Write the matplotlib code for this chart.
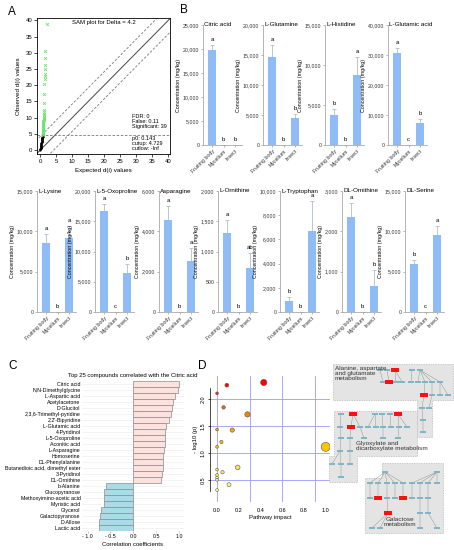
import matplotlib.pyplot as plt
import matplotlib.patches as mpatches
from matplotlib.colors import LinearSegmentedColormap
import numpy as np

plt.rcParams['font.family'] = ['Liberation Sans', 'DejaVu Sans']

W, H = 454, 550

# ---------------- data ----------------
# A: SAM plot
sam_exp_ns = [0.02, 0.05, 0.08, 0.10, 0.12, 0.15, 0.18, 0.20, 0.22, 0.25, 0.28, 0.30, 0.33, 0.35,
              0.38, 0.40, 0.42, 0.45, 0.48, 0.50, 0.52, 0.55, 0.58, 0.60, 0.62, 0.65, 0.68, 0.70,
              0.72, 0.75, 0.78, 0.80, 0.82, 0.85]
sam_obs_ns = [0.05, 0.20, 0.35, 0.50, 0.65, 0.80, 0.95, 1.10, 1.25, 1.40, 1.55, 1.70, 1.85, 2.00,
              2.15, 2.30, 2.45, 2.60, 2.75, 2.90, 3.05, 3.20, 3.35, 3.50, 3.62, 3.75, 3.88, 4.00,
              4.12, 4.25, 4.38, 4.50, 4.60, 4.68]
sam_exp_sig = [0.80, 0.82, 0.85, 0.85, 0.87, 0.90, 0.90, 0.92, 0.95, 0.95, 0.97, 1.00, 1.00, 1.00, 1.02, 1.05,
               1.05, 1.08, 1.10, 1.10, 1.12, 1.15, 1.15, 1.20, 1.25, 1.30, 1.35, 1.35, 1.40, 1.40, 1.45, 1.50, 1.55, 2.00]
sam_obs_sig = [4.8, 5.0, 5.3, 5.6, 5.9, 6.2, 6.5, 6.8, 7.1, 7.4, 7.7, 8.0, 8.3, 8.6, 8.9, 9.2,
               9.5, 9.8, 10.2, 10.7, 11.2, 11.8, 12.4, 14.5, 17.2, 20.5, 22.0, 22.8, 23.5, 25.0, 26.3, 28.4, 30.5, 38.8]
sam_delta = 4.2
sam_cutup = 4.729

# B: amino acid concentrations (mg/kg)
groups = ['Fruiting body', 'Mycelium', 'Insect']
compounds = ['Citric acid', 'L-Glutamine', 'L-Histidine', 'L-Glutamic acid',
             'L-Lysine', 'L-5-Oxoproline', 'Asparagine', 'L-Ornithine',
             'L-Tryptophan', 'DL-Ornithine', 'DL-Serine']
conc_means = [[19800, 0, 0], [14700, 0, 4500], [3800, 0, 8700], [30700, 0, 7300],
              [8500, 0, 9200], [16700, 0, 6500], [4550, 0, 2550], [1300, 0, 730],
              [900, 0, 6700], [2350, 0, 650], [6000, 0, 9500]]
conc_errs = [[1000, 0, 0], [2000, 0, 700], [700, 0, 2300], [1500, 0, 1300],
             [1200, 0, 1400], [1200, 0, 1500], [700, 0, 600], [220, 0, 250],
             [300, 0, 2500], [350, 0, 400], [500, 0, 1200]]
sig_letters = [['a', 'b', 'b'], ['a', 'b', 'b'], ['b', 'b', 'a'], ['a', 'c', 'b'],
               ['a', 'b', 'a'], ['a', 'c', 'b'], ['a', 'b', 'a'], ['a', 'b', 'ab'],
               ['b', 'b', 'a'], ['a', 'b', 'b'], ['b', 'c', 'a']]
y_max = [25000, 20000, 15000, 40000, 15000, 20000, 6000, 2000, 10000, 3000, 15000]
y_step = [5000, 5000, 5000, 10000, 5000, 5000, 2000, 500, 2000, 1000, 5000]

# C: correlation with citric acid
corr_names = ['Citric acid', 'N,N-Dimethylglycine', 'L-Aspartic acid', 'Acetylacetone', 'D-Glucitol',
              '2,3,6-Trimethyl-pyridine', "2,2'-Bipyridine", 'L-Glutamic acid', '4-Pyridinol',
              'L-5-Oxoproline', 'Aconitic acid', 'L-Asparagine', 'Homoserine', 'DL-Phenylalanine',
              'Butanedioic acid, dimethyl ester', '3-Pyridinol', 'DL-Ornithine', 'b-Alanine',
              'Glucopyranose', 'Methoxyimino-acetic acid', 'Myristic acid', 'Glycerol',
              'Galactopyranose', 'D-Allose', 'Lactic acid']
corr_vals = [1.00, 0.96, 0.90, 0.86, 0.84, 0.81, 0.78, 0.70, 0.69, 0.69, 0.68, 0.66, 0.65, 0.65,
             0.64, 0.62, 0.60, -0.60, -0.64, -0.64, -0.65, -0.70, -0.72, -0.74, -0.76]

# D: pathway analysis
path_impact = [0.43, 0.09, 0.0, 0.06, 0.28, 0.0, 0.14, 0.04, 0.0, 1.0,
               0.19, 0.0, 0.05, 0.0, 0.0, 0.0, 0.11, 0.0]
path_logp = [2.31, 2.26, 2.11, 1.85, 1.72, 1.44, 1.43, 1.21, 1.12, 1.12,
             0.74, 0.70, 0.65, 0.60, 0.55, 0.51, 0.42, 0.32]

# D: pathway network sketches (pixel positions, red = hit compound)
net_outlines = [
    [(333, 364), (453, 364), (453, 400), (432, 400), (432, 437), (417, 437), (417, 400), (333, 400)],
    [(334, 411), (417, 411), (417, 456), (357, 456), (357, 482), (329, 482), (329, 456), (334, 456)],
    [(382, 463), (443, 463), (443, 533), (365, 533), (365, 478), (382, 478)],
]
net_nodes = [
    [(380, 370, 0), (387, 370, 0), (395, 370, 1), (412, 370, 0), (420, 370, 0),
     (383, 382, 0), (389, 382, 1), (396, 382, 0), (402, 382, 0), (411, 382, 0), (418, 382, 0),
     (425, 382, 0), (432, 382, 0), (440, 382, 0),
     (424, 395, 1), (432, 395, 0), (440, 395, 0), (448, 395, 0),
     (422, 408, 0), (429, 408, 0), (423, 420, 0), (423, 432, 0)],
    [(341, 414, 0), (353, 414, 1), (375, 414, 0), (382, 414, 0), (390, 414, 0), (398, 414, 1),
     (340, 427, 0), (351, 427, 1), (360, 427, 0), (368, 427, 0), (376, 427, 0), (383, 427, 0),
     (391, 427, 0), (399, 427, 0), (407, 427, 0),
     (341, 438, 0), (350, 438, 0), (364, 438, 0), (383, 438, 0), (398, 438, 0),
     (340, 451, 0), (350, 451, 0), (332, 464, 0), (341, 464, 0), (350, 464, 0), (341, 477, 0)],
    [(385, 472, 0), (437, 472, 0),
     (370, 483, 0), (378, 483, 0), (387, 483, 0), (395, 483, 0), (403, 483, 0), (412, 483, 0),
     (420, 483, 0), (428, 483, 0), (437, 483, 0),
     (370, 498, 0), (378, 498, 1), (387, 498, 0), (395, 498, 0), (403, 498, 1), (412, 498, 0),
     (420, 498, 0), (428, 498, 0),
     (388, 513, 1), (420, 513, 0), (428, 513, 0),
     (372, 528, 0), (380, 528, 0), (420, 528, 0), (437, 528, 0)],
]
net_titles = ['Alanine, aspartate\nand glutamate\nmetabolism',
              'Glyoxylate and\ndicarboxylate metabolism',
              'Galactose\nmetabolism']
net_title_pos = [(335, 366, 'left'), (356, 441, 'left'), (400, 517, 'center')]


def rect(l, t, r, b):
    return [l / W, 1 - b / H, (r - l) / W, (b - t) / H]


fig = plt.figure(figsize=(4.54, 5.5), dpi=100)

# ---------------- A ----------------
axA = fig.add_axes(rect(37, 18, 170, 154))
diag = [-5, 45]
axA.plot(diag, diag, color='#444444', lw=0.7, zorder=2)
axA.plot(diag, [d + sam_delta for d in diag], color='#777777', lw=0.6, ls=(0, (3, 2)), zorder=2)
axA.plot(diag, [d - sam_delta for d in diag], color='#777777', lw=0.6, ls=(0, (3, 2)), zorder=2)
axA.axhline(sam_cutup, color='#777777', lw=0.6, ls=(0, (3, 2)), zorder=2)
axA.scatter(sam_exp_ns, sam_obs_ns, s=2.5, color='black', lw=0, zorder=3)
axA.scatter(sam_exp_sig, sam_obs_sig, s=4, color='#6fe36f', marker='x', lw=0.6, zorder=3)
axA.set_xlim(-1, 40.5)
axA.set_ylim(-1.2, 40.7)
axA.set_xticks(range(0, 41, 5))
axA.set_yticks(range(0, 41, 5))
axA.tick_params(labelsize=4.3, length=2, width=0.5, pad=1.5)
axA.set_xlabel('Expected d(i) values', fontsize=4.5, labelpad=3)
axA.set_ylabel('Observed d(i) values', fontsize=4.5, labelpad=3)
for s in axA.spines.values():
    s.set_linewidth(0.6)
axA.text(0.5, 0.985, 'SAM plot for Delta = 4.2', transform=axA.transAxes,
         ha='center', va='top', fontsize=4.3)
axA.text(28.6, 11.0, 'FDR: 0\nFalse: 0.11\nSignificant: 39', fontsize=4, va='top', linespacing=0.95)
axA.text(28.6, 4.3, 'p0: 0.143\ncutup: 4.729\ncutlow: -Inf', fontsize=4, va='top', linespacing=0.95)

# ---------------- B ----------------
bar_boxes = [(203, 25, 242, 145), (263, 25, 302, 145), (325, 25, 364, 145), (388, 25, 427, 145),
             (37, 191, 76, 312), (95, 191, 134, 312), (159, 191, 198, 312), (218, 191, 257, 312),
             (280, 191, 319, 312), (342, 191, 381, 312), (405, 191, 444, 312)]
bar_color = '#8fbcf6'
err_color = '#a9bedb'
xs = np.arange(len(groups))
for i, name in enumerate(compounds):
    ax = fig.add_axes(rect(*bar_boxes[i]))
    vals = conc_means[i]
    errs = conc_errs[i]
    ax.bar(xs, vals, width=0.7, color=bar_color, zorder=2)
    ax.errorbar(xs, vals, yerr=[np.zeros(3), errs], fmt='none', ecolor=err_color,
                elinewidth=0.6, capsize=1.2, capthick=0.6, zorder=1)
    for xi, v, e, lab in zip(xs, vals, errs, sig_letters[i]):
        ax.text(xi, v + e + y_max[i] * 0.025, lab, ha='center', va='bottom', fontsize=4.3)
    ax.set_xlim(-0.78, 2.6)
    ax.set_ylim(0, y_max[i])
    ticks = np.arange(0, y_max[i] + 1, y_step[i])
    ax.set_yticks(ticks)
    ax.set_yticklabels([f'{t:,}' for t in ticks])
    ax.set_xticks(xs)
    ax.set_xticklabels(groups, rotation=45, ha='right', rotation_mode='anchor')
    ax.tick_params(labelsize=3.8, length=1.5, width=0.5, pad=1, colors='#333333')
    ax.tick_params(axis='both', color='#999999')
    for side in ['top', 'right']:
        ax.spines[side].set_visible(False)
    for side in ['left', 'bottom']:
        ax.spines[side].set_linewidth(0.6)
        ax.spines[side].set_color('#aaaaaa')
    ax.set_ylabel('Concentration (mg/kg)', fontsize=3.8, labelpad=1.5)
    ax.text(0.03, 1.0, name, transform=ax.transAxes, ha='left', va='center', fontsize=4.5)

# ---------------- C ----------------
axC = fig.add_axes(rect(82, 381, 184, 531))
yc = np.arange(len(corr_names))
cols = ['#fde1dd' if v > 0 else '#a9dbe9' for v in corr_vals]
for y in yc:
    axC.axhline(y, color='#eeeeee', lw=0.5, zorder=0)
axC.barh(yc, corr_vals, height=0.85, color=cols, edgecolor='#8c8c8c', lw=0.5, zorder=2)
axC.set_ylim(len(corr_names) - 0.5, -0.5)
axC.set_xlim(-1.12, 1.1)
axC.set_yticks(yc)
axC.set_yticklabels(corr_names)
axC.set_xticks([-1.0, -0.5, 0.0, 0.5, 1.0])
axC.set_xticklabels(['- 1.0', '- 0.5', '0.0', '0.5', '1.0'])
axC.tick_params(labelsize=3.8, length=1.2, width=0.4, pad=1, color='#999999')
axC.tick_params(axis='y', length=0)
for s in axC.spines.values():
    s.set_visible(False)
axC.set_xlabel('Correlation coefficients', fontsize=4.3, labelpad=2)
axC.set_title('Top 25 compounds correlated with the Citric acid', fontsize=4.3, pad=3)

# ---------------- D ----------------
axD = fig.add_axes(rect(210, 376, 330, 502))
for gx in [0.0, 0.3, 0.6, 0.9]:
    axD.axvline(gx, color='#9a9aff', lw=0.6, zorder=0)
for gy in [0.5, 1.0, 1.5, 2.0]:
    axD.axhline(gy, color='#9a9aff', lw=0.6, zorder=0)
heat = LinearSegmentedColormap.from_list('heat', ['#ffffb0', '#ffd400', '#f59000', '#ff0000'])
sizes = [4 + 38 * v for v in path_impact]
axD.scatter(path_impact, path_logp, s=sizes, c=path_logp, cmap=heat, vmin=0.35, vmax=2.3,
            edgecolors='#555555', linewidths=0.4, zorder=3)
axD.set_xlim(-0.065, 1.04)
axD.set_ylim(0.1, 2.43)
axD.set_xticks([0.0, 0.2, 0.4, 0.6, 0.8, 1.0])
axD.set_yticks([0.5, 1.0, 1.5, 2.0])
axD.set_yticklabels(['0.5', '1.0', '1.5', '2.0'], rotation=90, va='center')
axD.tick_params(labelsize=4, length=1.5, width=0.5, pad=1.5)
axD.tick_params(axis='x', length=0, pad=4)
for side in ['top', 'right', 'bottom']:
    axD.spines[side].set_visible(False)
axD.spines['left'].set_bounds(0.3, 2.2)
axD.spines['left'].set_linewidth(0.5)
axD.set_xlabel('Pathway impact', fontsize=4.3, labelpad=2)
axD.set_ylabel('- log10 (p)', fontsize=4.3, labelpad=2)

# overlay: network sketches and panel letters
ov = fig.add_axes([0, 0, 1, 1])
ov.set_xlim(0, W)
ov.set_ylim(H, 0)
ov.axis('off')
for outline, nodes in zip(net_outlines, net_nodes):
    ov.add_patch(mpatches.Polygon(outline, closed=True, facecolor='#e4e4e4',
                                  edgecolor='#b8b8b8', lw=0.5, ls=(0, (2, 1.5))))
    rows = sorted(set(n[1] for n in nodes))
    for r_prev, r_next in zip(rows[:-1], rows[1:]):
        upper = [n for n in nodes if n[1] == r_prev]
        for n in nodes:
            if n[1] != r_next:
                continue
            near = min(upper, key=lambda u: abs(u[0] - n[0]))
            ov.plot([near[0], n[0]], [near[1], n[1]], color='#777777', lw=0.25, zorder=2)
    for x, y, red in nodes:
        if red:
            ov.add_patch(mpatches.Rectangle((x - 3.8, y - 2.2), 7.6, 4.4, facecolor='#ff1010',
                                            edgecolor='none', zorder=3))
        else:
            ov.add_patch(mpatches.Rectangle((x - 3.2, y - 1.3), 6.4, 2.6, facecolor='#7eb6c6',
                                            edgecolor='none', zorder=3))
for t, (x, y, ha) in zip(net_titles, net_title_pos):
    ov.text(x, y, t, ha=ha, va='top', fontsize=4.6, color='#333333', linespacing=1.0, zorder=4)

for lab, x, y in [('A', 8, 12), ('B', 180, 10), ('C', 8, 366), ('D', 198, 366)]:
    ov.text(x, y, lab, fontsize=8.5, ha='left', va='center')

fig.savefig('out.png', dpi=100)
